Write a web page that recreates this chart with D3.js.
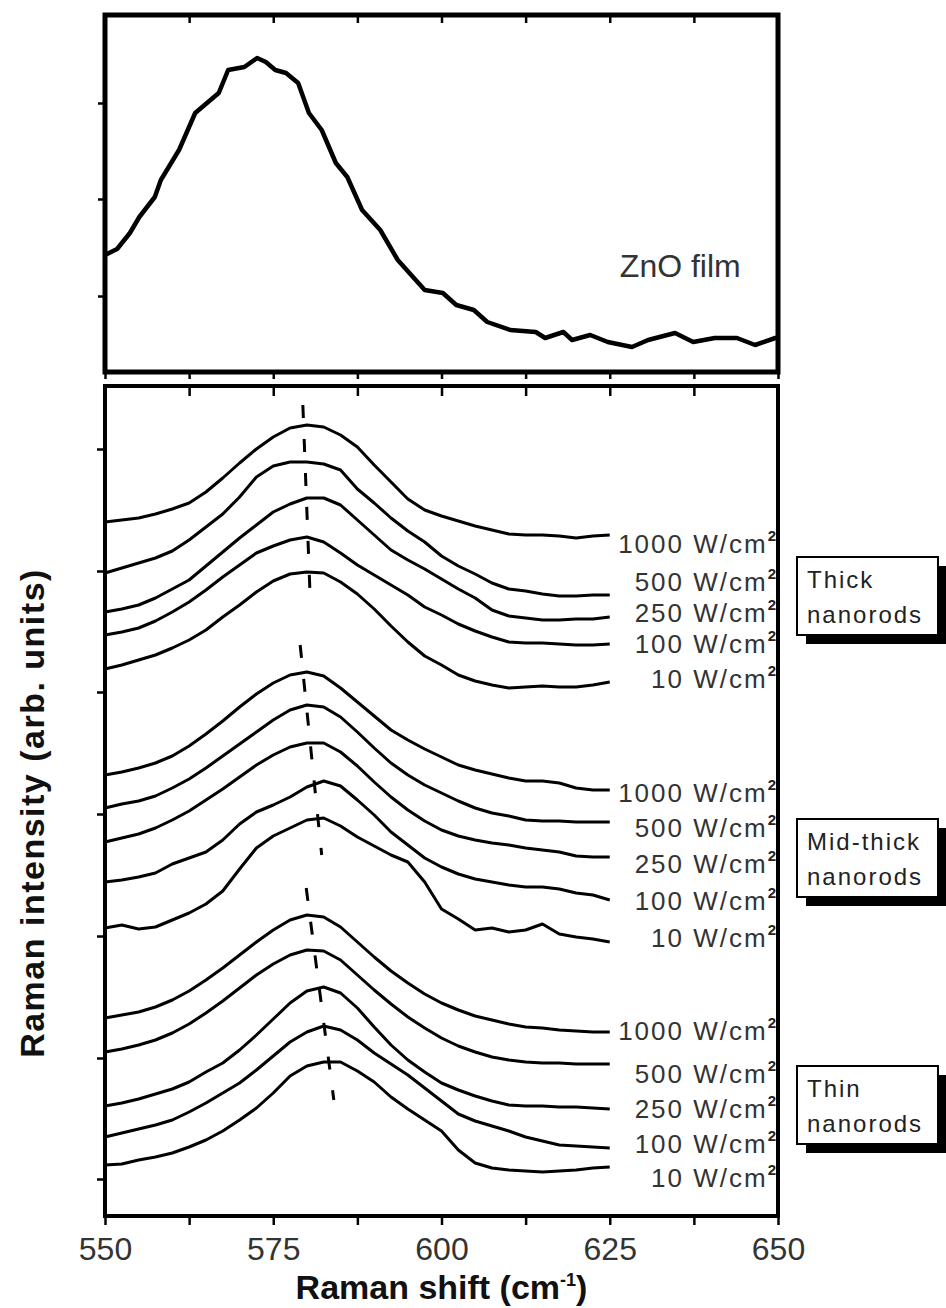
<!DOCTYPE html>
<html>
<head>
<meta charset="utf-8">
<script src="https://cdn.jsdelivr.net/npm/d3@7"></script>
<style>
  body { margin: 0; background: #fff; }
  text { font-family: "Liberation Sans", Arial, sans-serif; }
</style>
</head>
<body>
<div id="chart"></div>
<script>
// ZnO film spectrum (top panel), arbitrary units
var filmShift = [550, 551.8, 553.7, 555.1, 557.4, 558.3, 561.0, 563.4, 566.9, 568.3, 570.7, 572.6, 573.9, 575.3, 576.9,
  578.7, 580.3, 582.2, 584.3, 586.0, 588.2, 590.9, 593.5, 597.5, 600.2, 602.2, 604.8, 606.8, 610.2, 614.0, 615.4,
  618.1, 619.4, 622.1, 624.7, 628.3, 630.7, 634.7, 637.4, 640.6, 643.9, 646.6, 649.6, 650];
var filmIntensity = [117, 123, 139, 155, 175, 192, 222, 259, 279, 302, 305, 314, 310, 302, 299,
  289, 259, 242, 209, 195, 162, 142, 112, 82, 79, 67, 62, 50, 42, 40, 34,
  40, 32, 37, 30, 25, 32, 39, 30, 34, 34, 27, 34, 34];

// shared Raman shift grid for the nanorod spectra (bottom panel)
var shiftGrid = [550, 552.5, 555, 557.5, 560, 562.5, 565, 567.5, 570, 572.5, 575, 577.5, 580, 582.5, 585, 587.5,
  590, 592.5, 595, 597.5, 600, 602.5, 605, 607.5, 610, 612.5, 615, 617.5, 620, 622.5, 625];

// thick nanorods (stacked, arb. units)
var thick1000 = [694, 696, 698, 702, 707, 713, 724, 738, 753, 767, 779, 788, 791, 789, 781, 769, 751, 734, 717, 706, 700, 695, 690, 686, 682, 681, 681, 680, 678, 680, 681];
var thick500  = [643, 648, 653, 658, 665, 676, 689, 702, 719, 739, 750, 754, 754, 752, 746, 727, 713, 698, 685, 674, 660, 650, 642, 633, 627, 625, 622, 620, 620, 621, 621];
var thick250  = [604, 607, 611, 618, 627, 636, 650, 664, 678, 691, 704, 712, 718, 718, 711, 696, 681, 666, 656, 647, 637, 627, 618, 606, 600, 598, 596, 596, 597, 597, 599];
var thick100  = [581, 584, 588, 595, 604, 614, 626, 639, 651, 663, 670, 676, 679, 674, 663, 651, 641, 631, 621, 609, 601, 592, 585, 579, 574, 573, 573, 572, 571, 571, 572];
var thick10   = [547, 551, 556, 561, 568, 576, 586, 599, 611, 624, 635, 642, 644, 643, 634, 622, 607, 590, 574, 560, 551, 541, 535, 531, 528, 529, 530, 529, 529, 531, 534];

// mid-thick nanorods
var mid1000 = [441, 444, 448, 453, 460, 470, 482, 495, 509, 522, 533, 541, 544, 540, 528, 514, 500, 486, 476, 467, 459, 451, 446, 442, 438, 435, 435, 433, 428, 426, 426];
var mid500  = [408, 412, 415, 420, 428, 437, 448, 460, 472, 484, 496, 506, 511, 509, 499, 484, 468, 453, 441, 431, 423, 415, 408, 403, 400, 396, 395, 395, 394, 394, 394];
var mid250  = [374, 378, 382, 388, 396, 405, 416, 427, 439, 451, 461, 469, 473, 473, 464, 450, 434, 419, 406, 395, 386, 380, 376, 373, 371, 368, 366, 364, 360, 359, 359];
var mid100  = [334, 336, 339, 343, 352, 358, 364, 376, 392, 404, 411, 419, 429, 435, 430, 416, 401, 384, 371, 358, 349, 342, 337, 334, 331, 329, 329, 327, 323, 321, 316];
var mid10   = [288, 291, 287, 289, 296, 303, 312, 325, 347, 368, 380, 388, 396, 398, 390, 379, 370, 361, 354, 334, 307, 297, 286, 288, 284, 286, 292, 282, 279, 277, 274];

// thin nanorods
var thin1000 = [198, 201, 204, 209, 216, 225, 236, 248, 261, 274, 286, 296, 301, 299, 289, 274, 259, 245, 233, 222, 213, 206, 200, 196, 192, 189, 188, 186, 185, 184, 184];
var thin500  = [164, 167, 171, 176, 183, 192, 203, 215, 228, 241, 252, 261, 266, 265, 256, 241, 226, 212, 199, 188, 178, 170, 164, 159, 156, 154, 153, 153, 152, 152, 152];
var thin250  = [110, 113, 117, 122, 127, 134, 144, 153, 166, 181, 197, 213, 225, 229, 223, 208, 189, 171, 156, 144, 133, 126, 120, 115, 111, 110, 110, 109, 109, 108, 107];
var thin100  = [79, 83, 87, 91, 96, 104, 113, 123, 133, 146, 160, 174, 184, 190, 186, 176, 163, 152, 141, 128, 115, 102, 95, 90, 85, 79, 75, 71, 70, 69, 68];
var thin10   = [51, 52, 56, 59, 63, 69, 76, 85, 96, 108, 123, 140, 150, 154, 154, 145, 134, 119, 107, 96, 85, 66, 53, 48, 46, 45, 44, 45, 46, 48, 49];

var powerLabels = ["1000 W/cm", "500 W/cm", "250 W/cm", "100 W/cm", "10 W/cm"];
var groupNames = [["Thick", "nanorods"], ["Mid-thick", "nanorods"], ["Thin", "nanorods"]];
// label anchors (intensity) for each group, same order as powerLabels
var thickLabelAt = [663, 625, 594, 563, 528];
var midLabelAt = [414, 379, 343, 306, 269];
var thinLabelAt = [176, 133, 98, 63, 29];
var groupBoxAt = [620, 358, 111];
// dashed peak-position guides: [start, end]
var peakMarkerShift = [[579.4, 580.5], [579.0, 582.2], [579.9, 584.0]];
var peakMarkerIntensity = [[811, 616], [571, 361], [328, 116]];

var xTicks = [550, 562.5, 575, 587.5, 600, 612.5, 625, 637.5, 650];
var xTickLabels = [550, 575, 600, 625, 650];
var topYTicks = [76, 173, 269];
var bottomYTicks = [37, 158, 280, 402, 524, 645, 767];

function drawChart() {
  const width = 946;
  const height = 1308;
  const left = 105, right = 778;
  const topPanel = { top: 15, bottom: 372 };
  const botPanel = { top: 386, bottom: 1216 };

  var svg = d3.select('#chart').append('svg')
    .attr('width', width)
    .attr('height', height)
    .style('background', '#fff');

  var xScale = d3.scaleLinear().domain([550, 650]).range([left, right]);
  var yTop = d3.scaleLinear().domain([0, 357]).range([topPanel.bottom, topPanel.top]);
  var yBot = d3.scaleLinear().domain([0, 830]).range([botPanel.bottom, botPanel.top]);

  function styleAxis(g, w) {
    g.select('.domain').remove();
    g.selectAll('.tick line').attr('stroke', '#000').attr('stroke-width', w);
  }

  // ---- top panel ----
  svg.append('g').attr('transform', 'translate(0,' + topPanel.top + ')')
    .call(d3.axisBottom(xScale).tickValues(xTicks).tickSize(8).tickFormat(''))
    .call(styleAxis, 2.5);
  svg.append('g').attr('transform', 'translate(0,' + topPanel.bottom + ')')
    .call(d3.axisBottom(xScale).tickValues(xTicks).tickSize(7).tickFormat(''))
    .call(styleAxis, 2.5);
  svg.append('g').attr('transform', 'translate(' + left + ',0)')
    .call(d3.axisLeft(yTop).tickValues(topYTicks).tickSize(7).tickFormat(''))
    .call(styleAxis, 2.5);

  var filmLine = d3.line()
    .x(function(d, i) { return xScale(filmShift[i]); })
    .y(function(d) { return yTop(d); });
  svg.append('path').datum(filmIntensity)
    .attr('d', filmLine)
    .attr('fill', 'none').attr('stroke', '#000').attr('stroke-width', 4.5)
    .attr('stroke-linejoin', 'round');

  svg.append('rect')
    .attr('x', left).attr('y', topPanel.top)
    .attr('width', right - left).attr('height', topPanel.bottom - topPanel.top)
    .attr('fill', 'none').attr('stroke', '#000').attr('stroke-width', 5);

  svg.append('text').attr('x', xScale(626.5)).attr('y', yTop(95))
    .attr('font-size', 32).attr('fill', '#333').text('ZnO film');

  // ---- bottom panel ----
  svg.append('g').attr('transform', 'translate(0,' + botPanel.top + ')')
    .call(d3.axisBottom(xScale).tickValues(xTicks).tickSize(10).tickFormat(''))
    .call(styleAxis, 2.5);
  var xAxis = svg.append('g').attr('transform', 'translate(0,' + botPanel.bottom + ')')
    .call(d3.axisBottom(xScale).tickValues(xTicks).tickSize(9).tickPadding(12)
      .tickFormat(function(d) { return xTickLabels.indexOf(d) >= 0 ? d : ''; }))
    .call(styleAxis, 2.5);
  xAxis.selectAll('text').attr('font-size', 32).attr('fill', '#333')
    .attr('font-family', '"Liberation Sans", Arial, sans-serif');
  svg.append('g').attr('transform', 'translate(' + left + ',0)')
    .call(d3.axisLeft(yBot).tickValues(bottomYTicks).tickSize(8).tickFormat(''))
    .call(styleAxis, 2.5);

  var spectra = [thick1000, thick500, thick250, thick100, thick10,
    mid1000, mid500, mid250, mid100, mid10,
    thin1000, thin500, thin250, thin100, thin10];
  var line = d3.line()
    .x(function(d, i) { return xScale(shiftGrid[i]); })
    .y(function(d) { return yBot(d); });
  svg.selectAll('.spectrum').data(spectra).enter()
    .append('path').attr('class', 'spectrum')
    .attr('d', line)
    .attr('fill', 'none').attr('stroke', '#000').attr('stroke-width', 3)
    .attr('stroke-linejoin', 'round');

  // dashed guides through the peak maxima
  svg.selectAll('.marker').data(peakMarkerShift).enter()
    .append('line').attr('class', 'marker')
    .attr('x1', function(d) { return xScale(d[0]); })
    .attr('x2', function(d) { return xScale(d[1]); })
    .attr('y1', function(d, i) { return yBot(peakMarkerIntensity[i][0]); })
    .attr('y2', function(d, i) { return yBot(peakMarkerIntensity[i][1]); })
    .attr('stroke', '#000').attr('stroke-width', 3)
    .attr('stroke-dasharray', '13 21');

  svg.append('rect')
    .attr('x', left).attr('y', botPanel.top)
    .attr('width', right - left).attr('height', botPanel.bottom - botPanel.top)
    .attr('fill', 'none').attr('stroke', '#000').attr('stroke-width', 4);

  // power density labels
  var labelSets = [thickLabelAt, midLabelAt, thinLabelAt];
  labelSets.forEach(function(anchors) {
    anchors.forEach(function(a, i) {
      var t = svg.append('text')
        .attr('x', 776).attr('y', yBot(a))
        .attr('text-anchor', 'end')
        .attr('font-size', 26).attr('letter-spacing', 2).attr('fill', '#333');
      t.append('tspan').text(powerLabels[i]);
      t.append('tspan').attr('dy', -12).attr('font-size', 15).attr('font-weight', 'bold')
        .attr('fill', '#222').attr('letter-spacing', 0).text('2');
    });
  });

  // group boxes with drop shadow
  var boxW = 141, boxH = 78, shadow = 9;
  groupNames.forEach(function(name, i) {
    var cy = yBot(groupBoxAt[i]);
    var bx = 797, by = cy - boxH / 2;
    svg.append('rect').attr('x', bx + shadow).attr('y', by + shadow)
      .attr('width', boxW).attr('height', boxH).attr('fill', '#000');
    svg.append('rect').attr('x', bx).attr('y', by)
      .attr('width', boxW).attr('height', boxH)
      .attr('fill', '#fff').attr('stroke', '#000').attr('stroke-width', 2);
    svg.append('text').attr('x', bx + 10).attr('y', by + 31)
      .attr('font-size', 24).attr('letter-spacing', 2).attr('fill', '#222').text(name[0]);
    svg.append('text').attr('x', bx + 10).attr('y', by + 66)
      .attr('font-size', 24).attr('letter-spacing', 2).attr('fill', '#222').text(name[1]);
  });

  // axis titles
  var xt = svg.append('text').attr('x', xScale(600)).attr('y', 1299)
    .attr('text-anchor', 'middle').attr('font-size', 34).attr('font-weight', 'bold').attr('fill', '#111');
  xt.append('tspan').text('Raman shift (cm');
  xt.append('tspan').attr('dy', -13).attr('font-size', 18).text('-1');
  xt.append('tspan').attr('dy', 13).text(')');

  svg.append('text')
    .attr('transform', 'translate(44,' + ((botPanel.top + botPanel.bottom) / 2 + 12) + ') rotate(-90)')
    .attr('text-anchor', 'middle').attr('font-size', 34).attr('font-weight', 'bold')
    .attr('letter-spacing', 1.5).attr('fill', '#111')
    .text('Raman intensity (arb. units)');
}

window.onload = drawChart;
</script>
</body>
</html>
